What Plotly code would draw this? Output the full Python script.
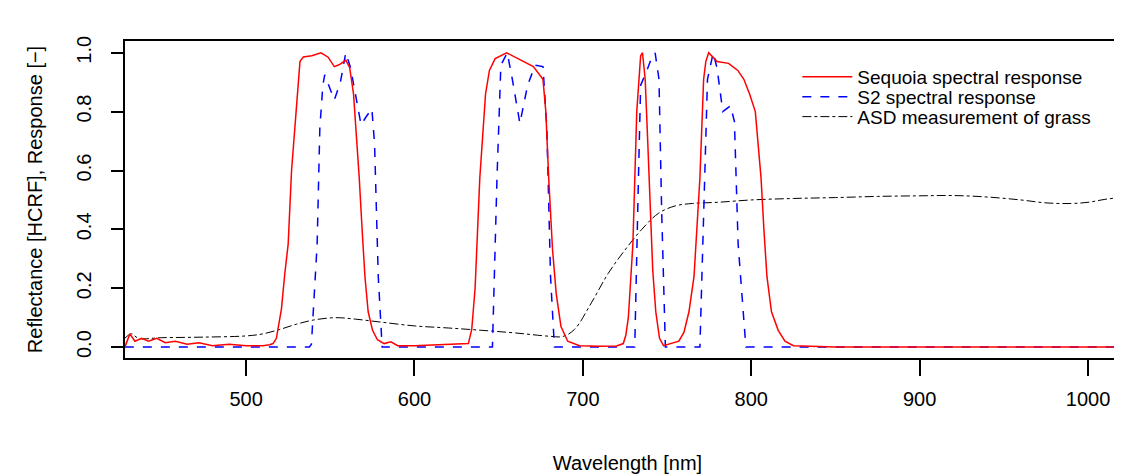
import plotly.graph_objects as go

# Sequoia spectral response (wavelength nm, response)
seq_wl = [428, 431, 434, 438, 442, 447, 452, 458, 465, 472, 480, 490, 500, 510,
          514, 516, 518, 519, 521, 523, 525, 527, 529.7, 532, 534, 539, 544.5, 548.7, 552.4, 555.5,
          559.2, 561.5, 563.8, 565.5, 567.2, 569, 570.6, 572.5, 575.1, 578, 582, 586, 590, 600, 620,
          630, 632, 634, 636, 638.8, 642.2, 644.5, 647.9, 654.7, 661.5, 670.6, 676.3, 678,
          679.7, 682, 684.2, 687, 691, 698, 710, 720, 724,
          725.5, 727, 729.7, 732, 734.3, 735.4, 737, 738.5, 740, 741.5, 743.3, 745.5, 747.9, 752.4,
          757, 760, 763, 766, 769.5, 771.7, 773, 774.7, 776.3, 779.7, 786.5, 792, 795.6, 799,
          802.4, 805.8, 807.5, 809.3, 812, 816, 820, 825, 850, 900, 950, 1030]
seq_resp = [0.0, 0.045, 0.02, 0.03, 0.02, 0.03, 0.015, 0.02, 0.01, 0.015, 0.005, 0.01, 0.005, 0.005,
            0.008, 0.012, 0.03, 0.06, 0.13, 0.25, 0.35, 0.6, 0.80, 0.97, 0.986, 0.99, 1.0, 0.985,
            0.953, 0.96, 0.975, 0.95, 0.86, 0.73, 0.575, 0.39, 0.238, 0.12, 0.057, 0.025, 0.012,
            0.018, 0.005, 0.005, 0.01,
            0.01, 0.012, 0.06, 0.2, 0.575, 0.86, 0.94, 0.98, 1.0, 0.98, 0.953, 0.91, 0.8,
            0.575, 0.33, 0.18, 0.07, 0.02, 0.005, 0.003, 0.004, 0.012,
            0.04, 0.1, 0.35, 0.80, 0.99, 1.0, 0.91, 0.7, 0.46, 0.26, 0.12, 0.03, 0.005, 0.012,
            0.02, 0.05, 0.12, 0.24, 0.575, 0.91, 0.97, 1.0, 0.99, 0.97, 0.964, 0.94, 0.91, 0.86,
            0.80, 0.575, 0.4, 0.24, 0.12, 0.057, 0.02, 0.005, 0.0, 0.0, 0.0, 0.0]

# Sentinel-2 spectral response
s2_wl = [428, 537.6, 538.8, 542.2, 543.8, 545.6, 546.7, 549.5, 552.4, 556, 559.2, 562, 565,
         568.3, 571, 574.7, 576.3, 578.5, 580.8, 646.3, 649, 651.3, 655.1, 658.1, 662.6,
         667.2, 671.7, 676.3, 678.6, 680.8, 683.1, 730.8, 733, 734.3, 737.7, 740, 742.9,
         745.2, 746.8, 749, 769.5, 771.7, 774, 777.4, 779.7, 783.1, 787.7, 790, 792.2,
         796.8, 1030]
s2_resp = [0.0, 0.0, 0.01, 0.35, 0.745, 0.89, 0.925, 0.88, 0.84, 0.9, 1.0, 0.95, 0.86,
           0.755, 0.78, 0.81, 0.69, 0.24, 0.0, 0.0, 0.575, 0.958, 1.0, 0.91, 0.76,
           0.89, 0.958, 0.953, 0.745, 0.24, 0.0, 0.0, 0.575, 0.89, 0.935, 0.97, 1.0,
           0.91, 0.46, 0.0, 0.0, 0.46, 0.91, 1.0, 0.947, 0.80, 0.82, 0.766, 0.35,
           0.0, 0.0]

# ASD reflectance of grass
asd_wl = [428, 432, 436, 450, 475, 500, 510, 520, 530, 540, 553, 565, 580, 600, 620,
          640, 660, 680, 688, 695, 705, 715, 725, 735, 745, 755, 765, 780, 800,
          825, 850, 875, 900, 920, 940, 960, 975, 990, 1000, 1010, 1022, 1030]
asd_refl = [0.03, 0.045, 0.03, 0.032, 0.034, 0.038, 0.045, 0.06, 0.078, 0.092, 0.1, 0.095,
            0.085, 0.072, 0.065, 0.057, 0.048, 0.037, 0.036, 0.06, 0.15, 0.25, 0.33, 0.4,
            0.455, 0.48, 0.488, 0.492, 0.5, 0.505, 0.508, 0.512, 0.514, 0.515, 0.51,
            0.5, 0.49, 0.488, 0.492, 0.502, 0.51, 0.512]

fig = go.Figure()
# ASD first so the responses are drawn on top
fig.add_trace(go.Scatter(x=asd_wl, y=asd_refl, mode="lines", name="ASD measurement of grass",
                         line=dict(color="black", width=1, dash="dashdot", shape="spline"),
                         legend="legend3", showlegend=True))
fig.add_trace(go.Scatter(x=s2_wl, y=s2_resp, mode="lines", name="S2 spectral response",
                         line=dict(color="blue", width=1.5, dash="dash"), legend="legend2",
                         showlegend=True))
fig.add_trace(go.Scatter(x=seq_wl, y=seq_resp, mode="lines", name="Sequoia spectral response",
                         line=dict(color="red", width=1.5), legend="legend", showlegend=True))

leg = dict(x=0.669, xanchor="left", yanchor="middle", bgcolor="rgba(0,0,0,0)",
           font=dict(size=19), itemwidth=50)
fnt = dict(family="Liberation Sans, Arial", size=20, color="black")
fig.update_layout(
    width=1122, height=476,
    margin=dict(l=117, r=0, t=33, b=126),
    plot_bgcolor="white", paper_bgcolor="white",
    font=fnt,
    showlegend=True,
    legend=dict(leg, y=0.887),
    legend2=dict(leg, y=0.824),
    legend3=dict(leg, y=0.761),
    xaxis=dict(range=[428.1, 1024.9], tickvals=[500, 600, 700, 800, 900, 1000],
               automargin=False,
               showgrid=False, zeroline=False, showline=True, linecolor="black", linewidth=2,
               mirror=True, ticks="outside", ticklen=16, tickwidth=2, tickcolor="black",
               ticklabelstandoff=6,
               title=dict(text="Wavelength [nm]", standoff=47, font=dict(size=20))),
    yaxis=dict(range=[-0.037, 1.04], tickvals=[0, 0.2, 0.4, 0.6, 0.8, 1.0],
               ticktext=["0.0", "0.2", "0.4", "0.6", "0.8", "1.0"], tickangle=-90,
               automargin=False,
               showgrid=False, zeroline=False, showline=True, linecolor="black", linewidth=2,
               ticks="outside", ticklen=12, tickwidth=2, tickcolor="black",
               ticklabelstandoff=12,
               title=dict(text="Reflectance [HCRF], Response [\u2212]", standoff=25,
                          font=dict(size=20))),
)

fig.write_html("out.html")
